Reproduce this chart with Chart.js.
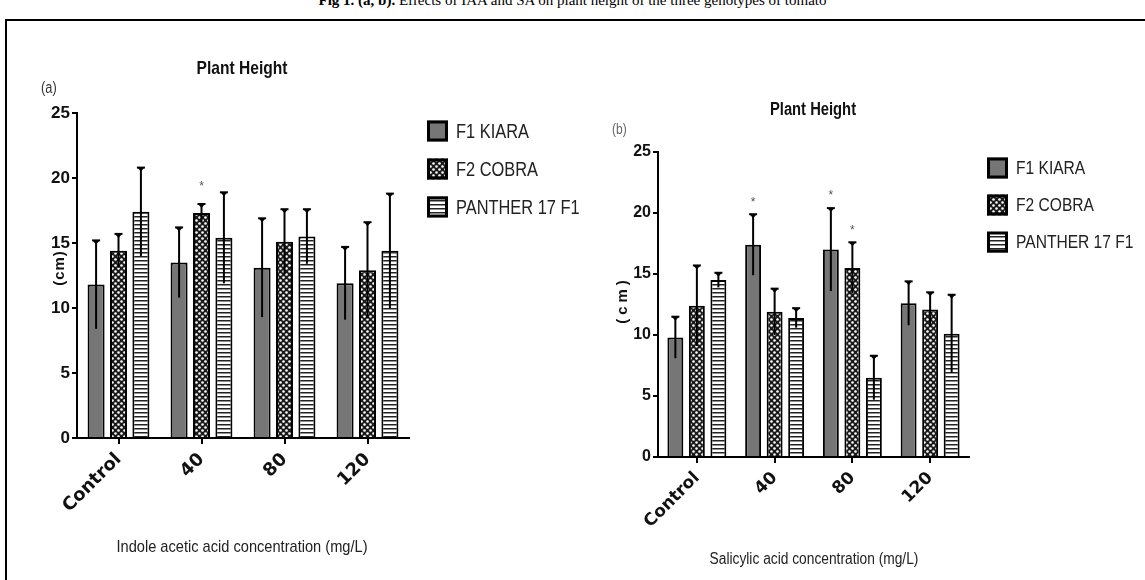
<!DOCTYPE html>
<html>
<head>
<meta charset="utf-8">
<script src="https://cdn.jsdelivr.net/npm/chart.js@4.4.1/dist/chart.umd.min.js"></script>
<style>
  html, body { margin:0; padding:0; background:#fff; }
  body { width:1145px; height:580px; position:relative; overflow:hidden; }
  #frame { position:absolute; left:5px; top:19px; width:1160px; height:600px; border-top:2px solid #000; border-left:2px solid #000; }
  #caption { position:absolute; left:0; width:1145px; top:-8px; text-align:center; font-family:"Liberation Serif","Times New Roman",serif; font-size:15px; color:#000; white-space:nowrap; }
  canvas { position:absolute; top:0; }
  #cA { left:0; }
  #cB { left:572px; }
</style>
</head>
<body>
<div id="frame"></div>
<div id="caption"><b>Fig 1. (a, b).</b> Effects of IAA and SA on plant height of the three genotypes of tomato</div>
<canvas id="cA" width="600" height="580"></canvas>
<canvas id="cB" width="573" height="580"></canvas>
<script>
// ---------- DATA ----------
const categories = ['Control', '40', '80', '120'];
const seriesLabels = ['F1 KIARA', 'F2 COBRA', 'PANTHER 17 F1'];
const yTicksMin = 0, yTicksMax = 25, yTickStep = 5;

// (a) Indole acetic acid
const iaaKiara     = [11.8, 13.5, 13.1, 11.9];
const iaaCobra     = [14.4, 17.3, 15.1, 12.9];
const iaaPanther   = [17.4, 15.4, 15.5, 14.4];
const iaaKiaraSD   = [3.4, 2.7, 3.8, 2.8];
const iaaCobraSD   = [1.3, 0.7, 2.5, 3.7];
const iaaPantherSD = [3.4, 3.5, 2.1, 4.4];
const iaaKiaraSig   = [0, 0, 0, 0];
const iaaCobraSig   = [0, 1, 0, 0];
const iaaPantherSig = [0, 0, 0, 0];

// (b) Salicylic acid
const saKiara     = [9.8, 17.4, 17.0, 12.6];
const saCobra     = [12.4, 11.9, 15.5, 12.1];
const saPanther   = [14.5, 11.4, 6.5, 10.1];
const saKiaraSD   = [1.7, 2.5, 3.4, 1.8];
const saCobraSD   = [3.3, 1.9, 2.1, 1.4];
const saPantherSD = [0.6, 0.8, 1.8, 3.2];
const saKiaraSig   = [0, 1, 1, 0];
const saCobraSig   = [0, 0, 1, 0];
const saPantherSig = [0, 0, 0, 0];

// ---------- PATTERNS ----------
function makeCheck() {
  const t = document.createElement('canvas'); t.width = 6; t.height = 6;
  const c = t.getContext('2d');
  c.fillStyle = '#1a1a1a'; c.fillRect(0, 0, 6, 6);
  c.fillStyle = '#ffffff';
  c.beginPath(); c.arc(1.5, 1.5, 1.3, 0, Math.PI * 2); c.fill();
  c.beginPath(); c.arc(4.5, 4.5, 1.3, 0, Math.PI * 2); c.fill();
  return c.createPattern(t, 'repeat');
}
function makeStripe() {
  const t = document.createElement('canvas'); t.width = 4; t.height = 4;
  const c = t.getContext('2d');
  c.fillStyle = '#ffffff'; c.fillRect(0, 0, 4, 4);
  c.fillStyle = '#222222'; c.fillRect(0, 0, 4, 1.5);
  return c.createPattern(t, 'repeat');
}
const fillKiara = '#767676';
const fillCobra = makeCheck();
const fillPanther = makeStripe();
const fills = [fillKiara, fillCobra, fillPanther];

const SANS = '"Liberation Sans",Arial,sans-serif';

function narrowText(ctx, text, x, y, align, sx) {
  ctx.save();
  ctx.translate(x, y);
  ctx.scale(sx, 1);
  ctx.textAlign = align;
  ctx.fillText(text, 0, 0);
  ctx.restore();
}

// ---------- DECORATION PLUGIN ----------
const decoPlugin = {
  id: 'deco',
  afterDatasetsDraw(chart) {
    const o = chart.options.plugins.deco;
    const ctx = chart.ctx;
    const ys = chart.scales.y;
    ctx.save();
    chart.data.datasets.forEach((ds, i) => {
      const meta = chart.getDatasetMeta(i);
      meta.data.forEach((bar, j) => {
        const v = ds.data[j], sd = o.sd[i][j];
        const yT = ys.getPixelForValue(v + sd);
        const yB = ys.getPixelForValue(v - sd);
        const x = bar.x;
        ctx.strokeStyle = '#000'; ctx.lineWidth = 2;
        ctx.beginPath(); ctx.moveTo(x, yB); ctx.lineTo(x, yT); ctx.stroke();
        ctx.beginPath(); ctx.moveTo(x - 4, yT); ctx.lineTo(x + 4, yT); ctx.stroke();
        ctx.fillStyle = '#000';
        ctx.beginPath(); ctx.moveTo(x - 3.5, yT); ctx.lineTo(x + 3.5, yT); ctx.lineTo(x, yT + 4); ctx.closePath(); ctx.fill();
        if (o.sig[i][j]) {
          ctx.fillStyle = '#555';
          ctx.font = '12px ' + SANS;
          ctx.textAlign = 'center'; ctx.textBaseline = 'middle';
          ctx.fillText('*', x, yT - o.starGap);
        }
      });
    });
    ctx.restore();
  },
  afterDraw(chart) {
    const o = chart.options.plugins.deco;
    const ctx = chart.ctx;
    ctx.save();
    ctx.textBaseline = 'middle';
    ctx.fillStyle = '#111';
    ctx.font = 'bold ' + o.titleSize + 'px ' + SANS;
    narrowText(ctx, o.title, o.titleX, o.titleY, 'center', 0.82);
    ctx.font = o.panelSize + 'px ' + SANS;
    ctx.fillStyle = o.panelColor;
    narrowText(ctx, o.panel, o.panelX, o.panelY, 'left', 0.8);
    ctx.fillStyle = '#222';
    ctx.font = o.xTitleSize + 'px ' + SANS;
    narrowText(ctx, o.xTitle, o.xTitleX, o.xTitleY, 'center', o.xTitleScale);
    // y title
    ctx.save();
    ctx.translate(o.cmX, o.cmY);
    ctx.rotate(-Math.PI / 2);
    ctx.font = 'bold 15px ' + SANS;
    ctx.fillStyle = '#111';
    ctx.textAlign = 'center';
    if ('letterSpacing' in ctx) ctx.letterSpacing = o.cmSpacing + 'px';
    ctx.fillText(o.yTitle, 0, 0);
    ctx.restore();
    // legend
    chart.data.datasets.forEach((ds, i) => {
      const y = o.legY + i * o.legDy;
      ctx.fillStyle = ds.backgroundColor;
      ctx.fillRect(o.legX, y - o.legBox / 2, o.legBox, o.legBox);
      ctx.strokeStyle = '#000'; ctx.lineWidth = 3;
      ctx.strokeRect(o.legX + 1.5, y - o.legBox / 2 + 1.5, o.legBox - 3, o.legBox - 3);
      ctx.fillStyle = '#222';
      ctx.font = o.legSize + 'px ' + SANS;
      narrowText(ctx, ds.label, o.legX + o.legBox + 8, y + 1, 'left', 0.82);
    });
    ctx.restore();
  }
};

function makeChart(canvasId, vals, deco, geom) {
  const datasets = vals.map((d, i) => ({
    label: seriesLabels[i], data: d,
    backgroundColor: fills[i], borderColor: '#000', borderWidth: 2
  }));
  return new Chart(document.getElementById(canvasId), {
    type: 'bar',
    data: { labels: categories, datasets },
    options: {
      responsive: false, animation: false, devicePixelRatio: 1,
      layout: { padding: { left: 0, top: geom.top, right: geom.right, bottom: 0 } },
      datasets: { bar: { categoryPercentage: geom.cp, barPercentage: geom.bp } },
      plugins: { legend: { display: false }, tooltip: { enabled: false }, deco },
      scales: {
        x: {
          grid: { display: true, drawOnChartArea: false, offset: false, color: '#000', lineWidth: 2, tickLength: 6 },
          border: { display: true, color: '#000', width: 2 },
          ticks: { color: '#111', font: { family: '"DejaVu Sans",Verdana,sans-serif', weight: 'bold', size: geom.xFont }, minRotation: 45, maxRotation: 45, padding: 5 },
          afterFit(s) { s.height = geom.xH; }
        },
        y: {
          min: yTicksMin, max: yTicksMax,
          grid: { display: true, drawOnChartArea: false, color: '#000', lineWidth: 2, tickLength: 5 },
          border: { display: true, color: '#000', width: 2 },
          ticks: { stepSize: yTickStep, color: '#111', padding: 2, font: { family: SANS, weight: 'bold', size: geom.yFont } },
          afterFit(s) { s.width = geom.yW; }
        }
      }
    },
    plugins: [decoPlugin]
  });
}

makeChart('cA', [iaaKiara, iaaCobra, iaaPanther], {
  sd: [iaaKiaraSD, iaaCobraSD, iaaPantherSD], sig: [iaaKiaraSig, iaaCobraSig, iaaPantherSig], starGap: 17,
  title: 'Plant Height', titleX: 242, titleY: 69, titleSize: 19,
  panel: '(a)', panelX: 41, panelY: 89, panelSize: 16, panelColor: '#333',
  xTitle: 'Indole acetic acid concentration (mg/L)', xTitleX: 242, xTitleY: 547, xTitleSize: 17, xTitleScale: 0.86,
  yTitle: '(cm)', cmX: 60, cmY: 268, cmSpacing: 1,
  legX: 427, legY: 131, legDy: 38, legBox: 21, legSize: 20
}, { top: 113, right: 191, cp: 0.81, bp: 0.76, xH: 142, yW: 77, xFont: 18, yFont: 17 });

makeChart('cB', [saKiara, saCobra, saPanther], {
  sd: [saKiaraSD, saCobraSD, saPantherSD], sig: [saKiaraSig, saCobraSig, saPantherSig], starGap: 12,
  title: 'Plant Height', titleX: 241, titleY: 110, titleSize: 18,
  panel: '(b)', panelX: 40, panelY: 130, panelSize: 15, panelColor: '#666',
  xTitle: 'Salicylic acid concentration (mg/L)', xTitleX: 242, xTitleY: 560, xTitleSize: 16, xTitleScale: 0.86,
  yTitle: '(cm)', cmX: 51, cmY: 300, cmSpacing: 4,
  legX: 415, legY: 168, legDy: 37, legBox: 21, legSize: 19
}, { top: 152, right: 176, cp: 0.83, bp: 0.74, xH: 123, yW: 86, xFont: 17, yFont: 16 });
</script>
</body>
</html>
